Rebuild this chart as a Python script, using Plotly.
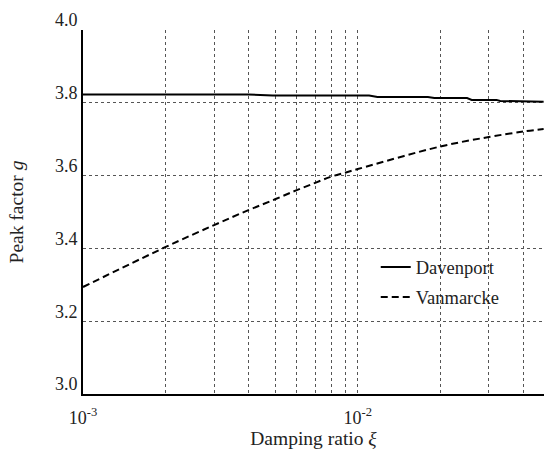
import plotly.graph_objects as go

# Davenport peak factor (nearly constant, small steps)
dav_x = [0.001, 0.0040, 0.0049, 0.0110, 0.0118, 0.0180, 0.0190, 0.0250, 0.0260, 0.0320, 0.0330, 0.0395, 0.0405, 0.0475]
dav_y = [3.823, 3.823, 3.820, 3.820, 3.816, 3.816, 3.813, 3.813, 3.808, 3.808, 3.805, 3.805, 3.803, 3.803]

# Vanmarcke peak factor
van_x = [0.001, 0.002, 0.003, 0.004, 0.005, 0.006, 0.007, 0.008, 0.009, 0.01, 0.02, 0.03, 0.04, 0.0475]
van_y = [3.294, 3.404, 3.464, 3.505, 3.535, 3.560, 3.580, 3.597, 3.608, 3.618, 3.680, 3.706, 3.721, 3.728]

x_tickvals = [0.001, 0.002, 0.003, 0.004, 0.005, 0.006, 0.007, 0.008, 0.009,
              0.01, 0.02, 0.03, 0.04, 0.05, 0.06, 0.07, 0.08, 0.09, 0.1]
x_ticktext = ["10<sup>-3</sup>"] + [""] * 8 + ["10<sup>-2</sup>"] + [""] * 8 + ["10<sup>-1</sup>"]
y_tickvals = [3.0, 3.2, 3.4, 3.6, 3.8, 4.0]
y_ticktext = ["3.0", "3.2", "3.4", "3.6", "3.8", "4.0"]

FONT = "Liberation Serif"

fig = go.Figure()
fig.add_trace(go.Scatter(x=dav_x, y=dav_y, mode="lines", name="Davenport",
                         legendgroup="a",
                         line=dict(color="black", width=2)))
fig.add_trace(go.Scatter(x=van_x, y=van_y, mode="lines", name="Vanmarcke",
                         legendgroup="b", line_shape="spline",
                         line=dict(color="black", width=2, dash="7px,4px")))

fig.update_layout(
    width=544, height=452,
    margin=dict(l=83, r=0, t=30, b=58),
    paper_bgcolor="white", plot_bgcolor="white",
    font=dict(family=FONT, size=18, color="#222"),
    showlegend=True,
    legend=dict(x=0.635, y=0.40, xanchor="left", yanchor="top",
                bgcolor="rgba(0,0,0,0)", tracegroupgap=3,
                font=dict(family=FONT, size=18.5, color="#222")),
)
fig.update_xaxes(
    type="log", range=[-3, -1.322],
    tickvals=x_tickvals, ticktext=x_ticktext,
    showgrid=True, gridcolor="#555", griddash="dot", gridwidth=1,
    showline=True, linecolor="black", linewidth=2,
    ticks="", zeroline=False, ticklabelstandoff=6,
    title=dict(text="Damping ratio <i>ξ</i>", font=dict(family=FONT, size=19.5), standoff=4),
    tickfont=dict(family=FONT, size=18),
)
fig.update_yaxes(
    range=[3.0, 4.0],
    tickvals=y_tickvals, ticktext=y_ticktext,
    showgrid=True, gridcolor="#555", griddash="dot", gridwidth=1,
    showline=True, linecolor="black", linewidth=2,
    ticks="", zeroline=False, ticklabelshift=-10,
    title=dict(text="Peak factor <i>g</i>", font=dict(family=FONT, size=19.5), standoff=26),
    tickfont=dict(family=FONT, size=18),
)

fig.write_html("out.html", config={"displayModeBar": False},
               post_script="document.body.style.margin='0';")
